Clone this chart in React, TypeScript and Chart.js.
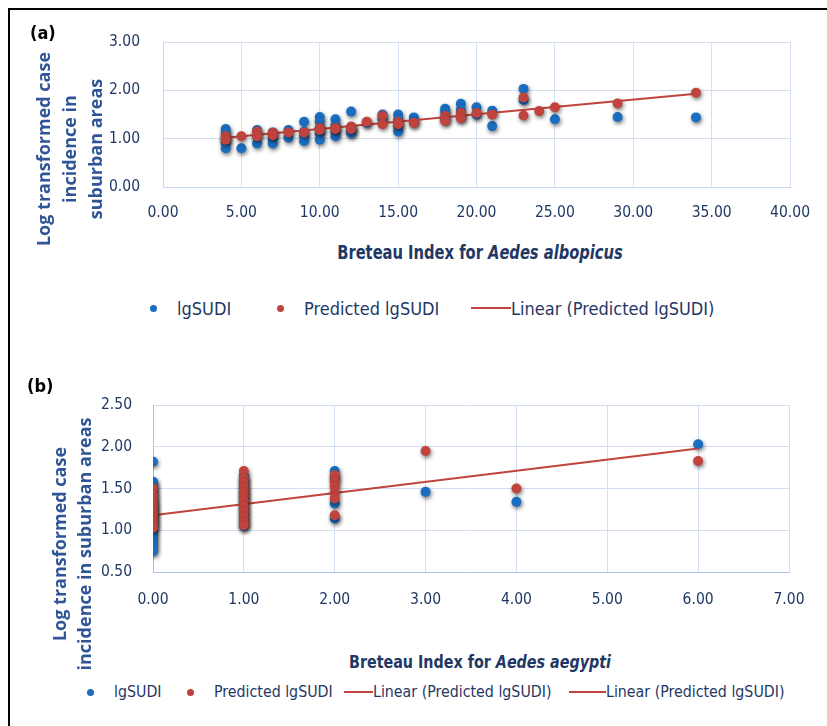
import React, { useEffect, useRef } from 'react';
import { Chart, registerables } from 'chart.js';

Chart.register(...registerables);

// ---------- Panel (a): Breteau Index for Aedes albopicus ----------
const aObsBI = [4, 4, 4, 4, 4, 5, 6, 6, 6, 7, 7, 7, 8, 8, 9, 9, 9, 9, 10, 10, 10, 10, 10, 11, 11, 11, 11, 12, 12, 12, 12, 13, 14, 14, 15, 15, 15, 15, 16, 16, 18, 18, 18, 19, 19, 19, 20, 20, 21, 21, 23, 23, 25, 29, 34];
const aObsLg = [1.2, 1.12, 1.0, 0.92, 0.8, 0.8, 1.18, 1.05, 0.9, 1.13, 1.0, 0.9, 1.18, 1.02, 1.35, 1.15, 1.05, 0.95, 1.45, 1.35, 1.22, 1.1, 0.98, 1.4, 1.28, 1.15, 1.05, 1.56, 1.22, 1.15, 1.12, 1.33, 1.5, 1.4, 1.5, 1.4, 1.25, 1.15, 1.44, 1.35, 1.62, 1.55, 1.4, 1.72, 1.6, 1.45, 1.65, 1.5, 1.58, 1.26, 2.03, 1.8, 1.4, 1.45, 1.44];
const aPredBI = [4, 4, 5, 6, 6, 7, 7, 8, 9, 10, 10, 11, 11, 12, 12, 13, 14, 14, 15, 15, 16, 18, 18, 19, 19, 20, 21, 23, 23, 24, 25, 29, 34];
const aPredLg = [1.05, 0.98, 1.05, 1.15, 1.05, 1.12, 1.07, 1.13, 1.13, 1.22, 1.18, 1.22, 1.2, 1.25, 1.2, 1.35, 1.47, 1.3, 1.35, 1.3, 1.33, 1.47, 1.37, 1.53, 1.43, 1.53, 1.5, 1.85, 1.48, 1.57, 1.65, 1.73, 1.95];
const aTrendSlope = 0.0303;
const aTrendIntercept = 0.9;
const aXTicks = [0, 5, 10, 15, 20, 25, 30, 35, 40];
const aYTicks = [0, 1, 2, 3];

// ---------- Panel (b): Breteau Index for Aedes aegypti ----------
const bObsBI = [0, 0, 0, 0, 0, 0, 0, 0, 0, 0, 0, 0, 0, 0, 0, 0, 0, 0, 0, 1, 1, 1, 1, 1, 1, 1, 1, 1, 1, 1, 1, 1, 2, 2, 2, 2, 3, 4, 6];
const bObsLg = [1.82, 1.58, 1.55, 1.5, 1.45, 1.4, 1.35, 1.3, 1.25, 1.2, 1.15, 1.1, 1.05, 1.0, 0.95, 0.9, 0.85, 0.8, 0.75, 1.65, 1.6, 1.55, 1.5, 1.45, 1.4, 1.35, 1.3, 1.25, 1.2, 1.15, 1.1, 1.05, 1.71, 1.62, 1.32, 1.14, 1.46, 1.34, 2.03];
const bPredBI = [0, 0, 0, 0, 0, 0, 0, 0, 0, 0, 0, 1, 1, 1, 1, 1, 1, 1, 1, 1, 1, 1, 1, 2, 2, 2, 2, 2, 2, 3, 4, 6];
const bPredLg = [1.5, 1.42, 1.36, 1.31, 1.27, 1.23, 1.19, 1.15, 1.11, 1.07, 1.03, 1.71, 1.62, 1.56, 1.5, 1.45, 1.4, 1.35, 1.28, 1.22, 1.16, 1.1, 1.06, 1.66, 1.58, 1.52, 1.45, 1.38, 1.18, 1.95, 1.5, 1.83];
const bTrendSlope = 0.133;
const bTrendIntercept = 1.18;
const bXTicks = [0, 1, 2, 3, 4, 5, 6, 7];
const bYTicks = [0.5, 1.0, 1.5, 2.0, 2.5];

const seriesNames = ['lgSUDI', 'Predicted lgSUDI', 'Linear (Predicted lgSUDI)'];

const NAVY = '#1F3864';
const TITLE_BLUE = '#2F5597';
const BLUE = '#1A6DC0';
const RED = '#C0433D';
const NARROW = "'DejaVu Sans Condensed', 'Liberation Sans', sans-serif";
const WIDE = "'Open Sans', 'DejaVu Sans', sans-serif";

const zip = (xs: number[], ys: number[]) => xs.map((x, i) => ({ x, y: ys[i] }));
const trend = (xs: number[], m: number, c: number) => {
  const lo = Math.min(...xs);
  const hi = Math.max(...xs);
  return [{ x: lo, y: m * lo + c }, { x: hi, y: m * hi + c }];
};

const shadowPlugin = {
  id: 'pointShadow',
  beforeDatasetDraw(chart: any, args: any) {
    const ds = chart.data.datasets[args.index];
    if (!ds.shadow) return;
    const ctx = chart.ctx;
    ctx.save();
    ctx.shadowColor = 'rgba(0,0,0,0.55)';
    ctx.shadowBlur = 4;
    ctx.shadowOffsetX = 1;
    ctx.shadowOffsetY = 2;
  },
  afterDatasetDraw(chart: any, args: any) {
    const ds = chart.data.datasets[args.index];
    if (!ds.shadow) return;
    chart.ctx.restore();
  },
};

function makeConfig(p: any): any {
  return {
    type: 'scatter',
    data: {
      datasets: [
        { label: seriesNames[1], data: zip(p.predX, p.predY), backgroundColor: RED, borderWidth: 0, pointRadius: 5, pointHoverRadius: 5, shadow: true },
        { label: seriesNames[2], data: trend(p.predX, p.slope, p.intercept), showLine: true, borderColor: RED, borderWidth: 2, pointRadius: 0, fill: false },
        { label: seriesNames[0], data: zip(p.obsX, p.obsY), backgroundColor: BLUE, borderWidth: 0, pointRadius: 5, pointHoverRadius: 5, shadow: true },
      ],
    },
    options: {
      responsive: false,
      animation: false,
      events: [],
      layout: { padding: p.padding },
      plugins: { legend: { display: false }, title: { display: false }, tooltip: { enabled: false } },
      scales: {
        x: {
          type: 'linear',
          min: p.xTicks[0],
          max: p.xTicks[p.xTicks.length - 1],
          afterBuildTicks: (s: any) => { s.ticks = p.xTicks.map((v: number) => ({ value: v })); },
          afterFit: (s: any) => { s.height = 40; },
          ticks: { callback: (v: any) => Number(v).toFixed(2), color: NAVY, font: { family: NARROW, size: 15.5 }, padding: p.xPad, maxRotation: 0, autoSkip: false },
          grid: { color: p.grid, lineWidth: 1, drawTicks: false },
          border: { color: p.border, width: 1 },
        },
        y: {
          type: 'linear',
          min: p.yTicks[0],
          max: p.yTicks[p.yTicks.length - 1],
          afterBuildTicks: (s: any) => { s.ticks = p.yTicks.map((v: number) => ({ value: v })); },
          afterFit: (s: any) => { s.width = 60; },
          ticks: { callback: (v: any) => Number(v).toFixed(2), color: NAVY, font: { family: NARROW, size: 15.5 }, padding: p.yPad, autoSkip: false },
          grid: { color: p.grid, lineWidth: 1, drawTicks: false },
          border: { color: p.border, width: 1 },
        },
      },
    },
    plugins: [shadowPlugin],
  };
}

const Txt = ({ x, y, size, children, style }: any) => {
  const h = Math.round(size * 1.25);
  return (
    <div style={{ position: 'absolute', left: x, top: y - h / 2, height: h, lineHeight: h + 'px', fontSize: size, whiteSpace: 'nowrap', ...style }}>{children}</div>
  );
};

const CTxt = ({ cx, y, size, children, style }: any) => {
  const h = Math.round(size * 1.25);
  return (
    <div style={{ position: 'absolute', left: cx - 300, width: 600, textAlign: 'center', top: y - h / 2, height: h, lineHeight: h + 'px', fontSize: size, whiteSpace: 'nowrap', ...style }}>{children}</div>
  );
};

const VTitle = ({ cx, cy, lines, size, gap }: any) => {
  const W = 340;
  const H = gap * lines.length;
  return (
    <div style={{ position: 'absolute', left: cx - W / 2, top: cy - H / 2, width: W, height: H, transform: 'rotate(-90deg)', transformOrigin: '50% 50%', textAlign: 'center', fontFamily: WIDE, fontWeight: 700, fontSize: size, lineHeight: gap + 'px', color: TITLE_BLUE, whiteSpace: 'nowrap' }}>
      {lines.map((l: string, i: number) => <div key={i}>{l}</div>)}
    </div>
  );
};

const Dot = ({ cx, cy, color, r }: any) => (
  <div style={{ position: 'absolute', left: cx - r, top: cy - r, width: 2 * r, height: 2 * r, borderRadius: '50%', background: color }} />
);
const Seg = ({ x1, x2, cy, color }: any) => (
  <div style={{ position: 'absolute', left: x1, top: cy - 1, width: x2 - x1, height: 2, background: color }} />
);

export default function App() {
  const refA = useRef<HTMLCanvasElement>(null);
  const refB = useRef<HTMLCanvasElement>(null);

  useEffect(() => {
    const ca = new Chart(refA.current as HTMLCanvasElement, makeConfig({
      obsX: aObsBI, obsY: aObsLg, predX: aPredBI, predY: aPredLg, slope: aTrendSlope, intercept: aTrendIntercept,
      xTicks: aXTicks, yTicks: aYTicks,
      padding: { left: 103, top: 42, right: 33, bottom: 13 },
      xPad: 17, yPad: 23, grid: '#D3DFF3', border: '#C9D9F2',
    }));
    const cb = new Chart(refB.current as HTMLCanvasElement, makeConfig({
      obsX: bObsBI, obsY: bObsLg, predX: bPredBI, predY: bPredLg, slope: bTrendSlope, intercept: bTrendIntercept,
      xTicks: bXTicks, yTicks: bYTicks,
      padding: { left: 93, top: 65, right: 38, bottom: 28 },
      xPad: 19, yPad: 21, grid: '#D3DFF3', border: '#A9C2EA',
    }));
    return () => { ca.destroy(); cb.destroy(); };
  }, []);

  const legendText = { color: NAVY, fontFamily: NARROW };
  const xTitle = { color: NAVY, fontFamily: NARROW, fontWeight: 700, transform: 'scaleX(0.86)', transformOrigin: '50% 50%' };
  const panel = { color: '#000', fontFamily: NARROW, fontWeight: 700 };

  return (
    <div style={{ position: 'absolute', left: 0, top: 0, width: 827, height: 726, overflow: 'hidden', background: '#fff' }}>
      <div style={{ position: 'absolute', left: 8, top: 8, width: 900, height: 800, borderTop: '2px solid #000', borderLeft: '2px solid #000' }} />
      <canvas ref={refA} width={827} height={240} style={{ position: 'absolute', left: 0, top: 0 }} />
      <canvas ref={refB} width={827} height={300} style={{ position: 'absolute', left: 0, top: 340 }} />

      <Txt x={30} y={32} size={18} style={panel}>(a)</Txt>
      <Txt x={27} y={385} size={18} style={panel}>(b)</Txt>

      <VTitle cx={69} cy={149} lines={['Log transformed case', 'incidence in', 'suburban areas']} size={18} gap={26} />
      <VTitle cx={72} cy={544} lines={['Log transformed case', 'incidence in suburban areas']} size={18} gap={25} />

      <CTxt cx={480} y={252} size={19} style={xTitle}>Breteau Index for <i>Aedes albopicus</i></CTxt>
      <CTxt cx={480} y={661} size={18.5} style={xTitle}>Breteau Index for <i>Aedes aegypti</i></CTxt>

      <Dot cx={153} cy={308} r={3.5} color={BLUE} />
      <Txt x={177} y={308} size={18} style={legendText}>{seriesNames[0]}</Txt>
      <Dot cx={280} cy={308} r={3.5} color={RED} />
      <Txt x={304} y={308} size={18} style={legendText}>{seriesNames[1]}</Txt>
      <Seg x1={471} x2={511} cy={308} color={RED} />
      <Txt x={511} y={308} size={18} style={legendText}>{seriesNames[2]}</Txt>

      <Dot cx={90} cy={692} r={3.5} color={BLUE} />
      <Txt x={114} y={692} size={15.8} style={legendText}>{seriesNames[0]}</Txt>
      <Dot cx={190} cy={692} r={3.5} color={RED} />
      <Txt x={214} y={692} size={15.8} style={legendText}>{seriesNames[1]}</Txt>
      <Seg x1={344} x2={373} cy={692} color={RED} />
      <Txt x={373} y={692} size={15.8} style={legendText}>{seriesNames[2]}</Txt>
      <Seg x1={569} x2={606} cy={692} color={RED} />
      <Txt x={606} y={692} size={15.8} style={legendText}>{seriesNames[2]}</Txt>
    </div>
  );
}
